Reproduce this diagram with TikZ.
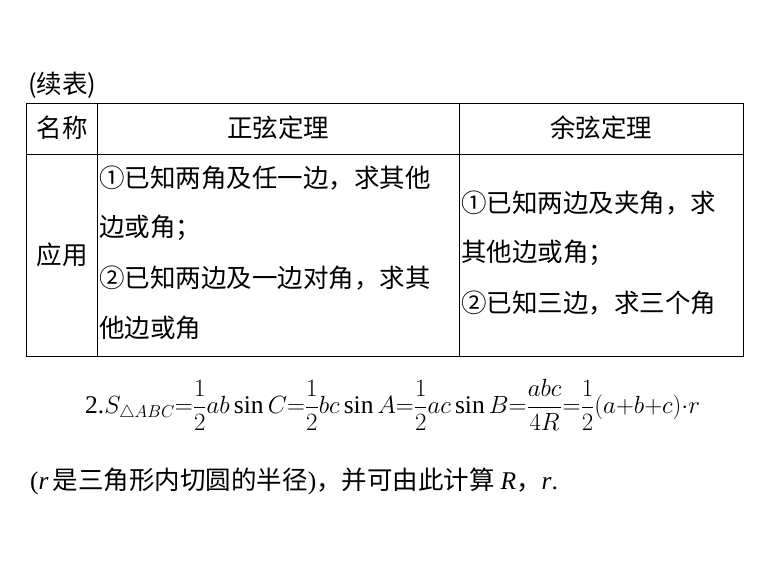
\documentclass[tikz,border=0pt]{standalone}
\usepackage{amsmath}
\usepackage{fontspec}
\setmainfont{Liberation Serif}
\newfontfamily\cjk{Noto Sans CJK SC}
\begin{document}
\begin{tikzpicture}[x=1pt,y=-1pt,
  cell/.style={anchor=west,inner sep=0pt,font=\fontsize{25.5}{30}\selectfont\cjk},
  ctr/.style={inner sep=0pt,font=\fontsize{25.5}{30}\selectfont\cjk},
  grid/.style={line width=0.9pt}]
\useasboundingbox (0,0) rectangle (768,583);
\draw[grid] (26,103) rectangle (743,356);
\draw[grid] (26,154) -- (743,154);
\draw[grid] (97,103) -- (97,356);
\draw[grid] (459,103) -- (459,356);
\node[cell] (tt) at (28,85) {(续表)};
\node[ctr] (h1) at (62,128) {名称};
\node[ctr] (h2) at (278,128) {正弦定理};
\node[ctr] (h3) at (601,128) {余弦定理};
\node[ctr] (r1) at (62,255) {应用};
\node[cell] (a1) at (99,178) {①已知两角及任一边，求其他};
\node[cell] (a2) at (99,228) {边或角；};
\node[cell] (a3) at (99,278) {②已知两边及一边对角，求其};
\node[cell] (a4) at (99,328) {他边或角};
\node[cell] (b1) at (461,203) {①已知两边及夹角，求};
\node[cell] (b2) at (461,253) {其他边或角；};
\node[cell] (b3) at (461,303) {②已知三边，求三个角};
\node[anchor=west,inner sep=0pt,font=\fontsize{25.5}{30}\selectfont] (f) at (85,405)
 {2.$S_{\triangle ABC}{=}\dfrac{1}{2}ab\sin C{=}\dfrac{1}{2}bc\sin A{=}\dfrac{1}{2}ac\sin B{=}\dfrac{abc}{4R}{=}\dfrac{1}{2}(a{+}b{+}c){\cdot}r$};
\node[cell] (n) at (30,481) {\rmfamily(\textit{r}\,\cjk 是三角形内切圆的半径\rmfamily)\cjk，并可由此计算 \rmfamily\textit{R}\cjk，\rmfamily\textit{r}.};
\end{tikzpicture}
\end{document}
